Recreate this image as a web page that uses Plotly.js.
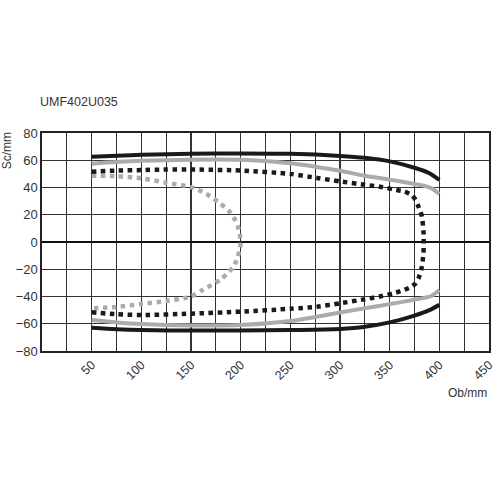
<!DOCTYPE html>
<html>
<head>
<meta charset="utf-8">
<script src="https://cdn.plot.ly/plotly-3.0.1.min.js"></script>
<style>
  body { margin: 0; background: #fff; }
  #chart { width: 500px; height: 500px; }
</style>
</head>
<body>
<div id="chart"></div>
<script>
// Solid black curve (upper and lower branch)
const blackSolidX = [50, 75, 100, 150, 200, 250, 300, 325, 350, 375, 390, 400];
const blackSolidUpper = [62.5, 63.3, 64, 64.7, 65, 64.7, 63.2, 61.8, 59.2, 54.5, 50.5, 45.5];
const blackSolidLower = [-63, -64, -64.6, -65, -65, -64.6, -63.8, -62.2, -59, -54, -50, -46];

// Solid grey curve
const greySolidX = [50, 75, 100, 150, 200, 250, 275, 300, 325, 350, 375, 385, 392, 400];
const greySolidUpper = [57.5, 58.7, 59.6, 60.4, 60.3, 57.8, 55.3, 52.3, 48.6, 45.8, 42.6, 41.2, 39.5, 35.2];
const greySolidLower = [-57.2, -59, -60.2, -61.2, -61, -58, -55, -51.8, -48.6, -45.6, -42.4, -41, -39.6, -35.2];

// Dotted black curve (closed loop, upper then lower)
const blackDotX = [50, 75, 100, 125, 150, 200, 250, 277, 300, 325, 340, 354, 365, 372, 376, 379, 382.5, 384, 384.3,
                   384, 382.5, 379, 376, 372, 365, 354, 340, 325, 300, 277, 250, 200, 150, 100, 75, 50];
const blackDotY = [51.6, 52.4, 52.8, 53.2, 53.2, 52.5, 50, 47, 44.5, 42, 40.6, 38.6, 37, 34.5, 31, 26, 18.6, 8, 0,
                   -8, -18, -26.7, -30.5, -32.8, -35, -37.7, -40, -42, -45, -47.5, -49, -51.1, -52.6, -53.6, -53, -51.6];

// Dotted grey curve
const greyDotX = [50, 75, 100, 125, 150, 165, 179, 188, 193, 197, 199, 200,
                  199.5, 197, 193, 188, 179, 162, 150, 125, 100, 75, 50];
const greyDotY = [48.7, 48.3, 46.7, 43.5, 40.3, 35.5, 28.5, 23, 18, 12, 6, 0,
                  -4, -11, -18, -22, -28, -35, -40, -43.3, -45.5, -47.7, -48.7];

const xTickVals = [50, 100, 150, 200, 250, 300, 350, 400, 450];
const yTickVals = [-80, -60, -40, -20, 0, 20, 40, 60, 80];

const BLACK = '#1a1a1a';
const GREY = '#ababab';
const FONT = 'Liberation Sans, Arial, sans-serif';

// join upper and lower branch with a gap so they are not connected
function branches(x, upper, lower) {
    return {
        x: x.concat([null], x),
        y: upper.concat([null], lower)
    };
}

const bs = branches(blackSolidX, blackSolidUpper, blackSolidLower);
const gs = branches(greySolidX, greySolidUpper, greySolidLower);

const data = [
    {
        x: gs.x, y: gs.y, type: 'scatter', mode: 'lines',
        line: { color: GREY, width: 4, shape: 'spline', smoothing: 0.8 },
        connectgaps: false, hoverinfo: 'skip'
    },
    {
        x: bs.x, y: bs.y, type: 'scatter', mode: 'lines',
        line: { color: BLACK, width: 4, shape: 'spline', smoothing: 0.8 },
        connectgaps: false, hoverinfo: 'skip'
    },
    {
        x: greyDotX, y: greyDotY, type: 'scatter', mode: 'lines',
        line: { color: GREY, width: 4.5, dash: '4.5px,4.5px', shape: 'spline', smoothing: 0.7 },
        hoverinfo: 'skip'
    },
    {
        x: blackDotX, y: blackDotY, type: 'scatter', mode: 'lines',
        line: { color: BLACK, width: 4.5, dash: '4.5px,4.5px', shape: 'spline', smoothing: 0.6 },
        hoverinfo: 'skip'
    }
];

const layout = {
    width: 500,
    height: 500,
    margin: { l: 42, r: 11, t: 133, b: 149 },
    paper_bgcolor: '#fff',
    plot_bgcolor: '#fff',
    showlegend: false,
    font: { family: FONT, size: 12, color: '#333' },
    title: {
        text: 'UMF402U035',
        x: 0.08, xanchor: 'left',
        y: 0.796, yanchor: 'middle',
        font: { family: FONT, size: 12.5, color: '#333' }
    },
    xaxis: {
        range: [0, 450],
        tickvals: xTickVals,
        tickangle: -45,
        ticks: '',
        showgrid: true,
        gridcolor: '#333',
        gridwidth: 1.2,
        minor: { dtick: 25, tick0: 0, showgrid: true, gridcolor: '#333', gridwidth: 1.2 },
        zeroline: false,
        showline: true, mirror: true, linecolor: '#222', linewidth: 1.6,
        tickfont: { family: FONT, size: 12.5, color: '#333' },
        fixedrange: true
    },
    yaxis: {
        range: [-80, 80],
        tickvals: yTickVals,
        ticks: '',
        showgrid: true,
        gridcolor: '#333',
        gridwidth: 1.2,
        zeroline: true, zerolinecolor: '#111', zerolinewidth: 2.2,
        showline: true, mirror: true, linecolor: '#222', linewidth: 1.6,
        tickfont: { family: FONT, size: 13, color: '#333' },
        fixedrange: true
    },
    annotations: [
        {
            text: 'Sc/mm', xref: 'paper', yref: 'paper',
            x: -0.078, y: 0.917, xanchor: 'center', yanchor: 'middle',
            textangle: -90, showarrow: false,
            font: { family: FONT, size: 12, color: '#333' }
        },
        {
            text: 'Ob/mm', xref: 'paper', yref: 'paper',
            x: 1, y: -0.193, xanchor: 'right', yanchor: 'middle',
            showarrow: false,
            font: { family: FONT, size: 12, color: '#333' }
        }
    ]
};

Plotly.newPlot('chart', data, layout, { displayModeBar: false, staticPlot: true });
</script>
</body>
</html>
